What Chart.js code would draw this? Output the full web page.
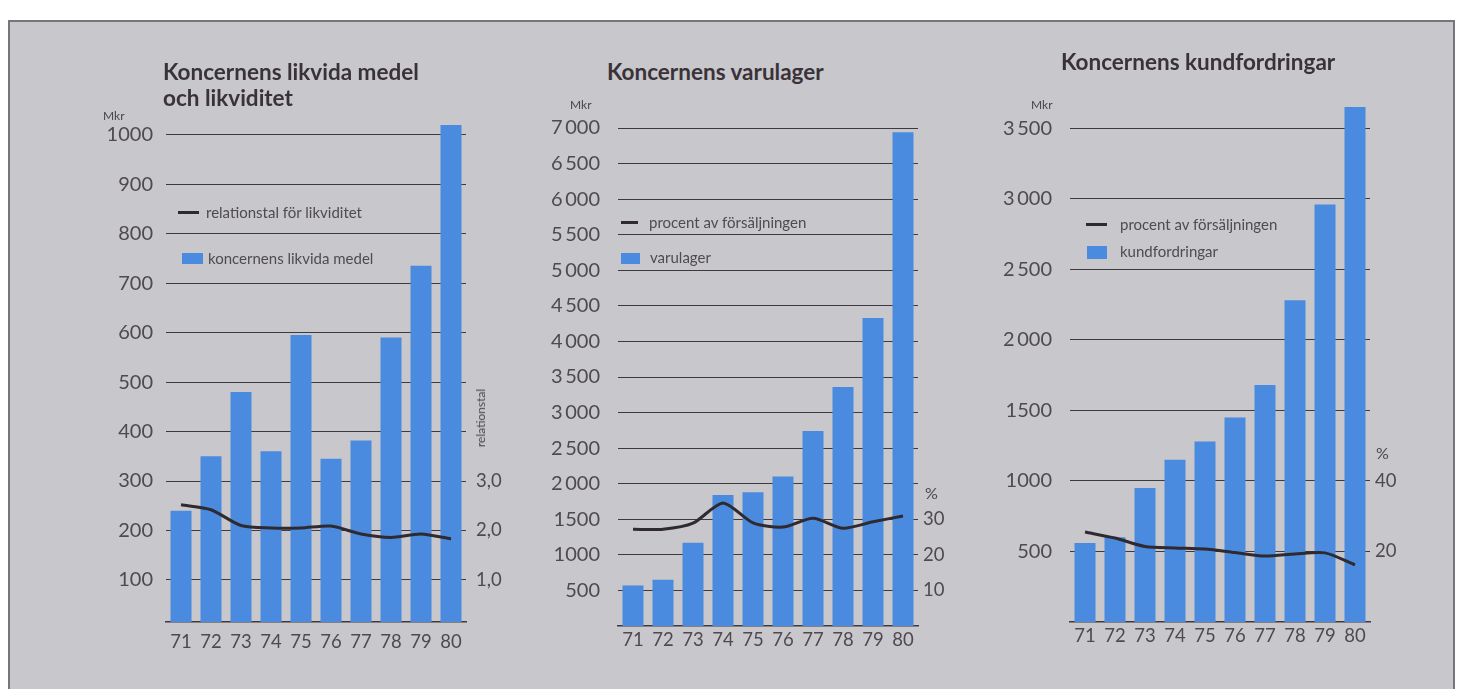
<!DOCTYPE html>
<html>
<head>
<meta charset="utf-8">
<script src="https://cdn.jsdelivr.net/npm/chart.js@4.4.1/dist/chart.umd.min.js"></script>
<style>
  html, body { margin:0; padding:0; background:#ffffff; width:1464px; height:689px; overflow:hidden; }
  #frame { position:absolute; left:8px; top:20px; width:1447px; height:680px; background:#c8c7cb; border:2px solid #77757a; box-sizing:border-box; }
  canvas { position:absolute; }
  .t { position:absolute; font-family:Lato, "Open Sans", sans-serif; color:#4a464c; white-space:nowrap; }
  .title { font-weight:700; font-size:22.5px; color:#3a3239; line-height:26px; letter-spacing:0px; }
  .mkr { font-size:12px; line-height:12px; }
  .leg { font-size:15px; line-height:16px; color:#4f4b51; }
  .sw-line { position:absolute; height:3px; background:#2e2a30; }
  .sw-box { position:absolute; background:#4a8be0; }
  .pct { font-size:16px; line-height:16px; }
  .rot { font-size:12px; line-height:12px; transform:translate(-50%,-50%) rotate(-90deg); }
</style>
</head>
<body>
<div id="frame"></div>

<canvas id="c1" width="413" height="564" style="left:93px; top:95px;"></canvas>
<canvas id="c2" width="418" height="548" style="left:545px; top:108px;"></canvas>
<canvas id="c3" width="418" height="572" style="left:997px; top:80px;"></canvas>

<div class="t title" style="left:163px; top:59px;">Koncernens likvida medel<br>och likviditet</div>
<div class="t title" style="left:607px; top:59px;">Koncernens varulager</div>
<div class="t title" style="left:1061px; top:49px;">Koncernens kundfordringar</div>

<div class="t mkr" style="left:103px; top:110px;">Mkr</div>
<div class="t mkr" style="left:570px; top:99px;">Mkr</div>
<div class="t mkr" style="left:1031px; top:99px;">Mkr</div>

<div class="sw-line" style="left:178px; top:211px; width:21px;"></div>
<div class="t leg" style="left:206px; top:204px;">relationstal för likviditet</div>
<div class="sw-box" style="left:182px; top:253px; width:21px; height:11px;"></div>
<div class="t leg" style="left:208px; top:250px;">koncernens likvida medel</div>

<div class="sw-line" style="left:621px; top:221px; width:17px;"></div>
<div class="t leg" style="left:649px; top:214px;">procent av försäljningen</div>
<div class="sw-box" style="left:621px; top:253px; width:19px; height:11px;"></div>
<div class="t leg" style="left:650px; top:249px;">varulager</div>

<div class="sw-line" style="left:1086px; top:223px; width:21px;"></div>
<div class="t leg" style="left:1120px; top:216px;">procent av försäljningen</div>
<div class="sw-box" style="left:1087px; top:246px; width:20px; height:13px;"></div>
<div class="t leg" style="left:1120px; top:243px;">kundfordringar</div>

<div class="t rot" style="left:481px; top:418px;">relationstal</div>
<div class="t pct" style="left:925px; top:485px;">%</div>
<div class="t pct" style="left:1376px; top:445px;">%</div>

<script>
const years = ['71','72','73','74','75','76','77','78','79','80'];

// Koncernens likvida medel (Mkr) and relationstal för likviditet
const likvidaMedel = [240, 350, 480, 360, 595, 345, 382, 590, 735, 1020];
const relationstal = [2.52, 2.42, 2.10, 2.05, 2.05, 2.09, 1.93, 1.86, 1.93, 1.83];

// Koncernens varulager (Mkr) and procent av försäljningen
const varulager = [570, 650, 1170, 1840, 1880, 2100, 2740, 3360, 4330, 6940];
const varuProcent = [27.2, 27.2, 28.9, 34.6, 29.0, 27.8, 30.3, 27.5, 29.3, 30.9];

// Koncernens kundfordringar (Mkr) and procent av försäljningen
const kundfordringar = [560, 600, 950, 1150, 1280, 1450, 1680, 2280, 2960, 3650];
const kundProcent = [25.5, 23.8, 21.4, 21.0, 20.7, 19.7, 18.7, 19.3, 19.6, 16.2];

// tick labels
const ticks1Left = [100,200,300,400,500,600,700,800,900,1000];
const ticks1Right = [1,2,3];
const ticks2Left = [500,1000,1500,2000,2500,3000,3500,4000,4500,5000,5500,6000,6500,7000];
const ticks2Right = [10,20,30];
const ticks3Left = [500,1000,1500,2000,2500,3000,3500];
const ticks3Right = [20,40];

const BLUE = '#4a8be0';
const LINE = '#2e2a30';
const GRID = '#3c3940';
const TICKC = '#4e4a50';
const FONT = 'Lato, "Open Sans", sans-serif';

function fmtThousand(v) {
  if (v >= 2000) {
    const s = String(v);
    return s.slice(0, s.length-3) + '\u2009' + s.slice(-3);
  }
  return String(v);
}

function config(bars, line, cfg) {
  return {
    data: {
      labels: years,
      datasets: [
        { type:'line', data: line, yAxisID:'y1', borderColor: LINE, borderWidth: 3,
          pointRadius: 0, tension: 0.25, order: 0 },
        { type:'bar', data: bars, yAxisID:'y', backgroundColor: BLUE,
          barPercentage: 0.7, categoryPercentage: 1.0, order: 1 }
      ]
    },
    options: {
      responsive: false,
      maintainAspectRatio: false,
      animation: false,
      devicePixelRatio: 1,
      layout: { padding: { top: 20, left: 0, right: 0, bottom: 0 } },
      plugins: { legend: { display:false }, tooltip: { enabled:false } },
      scales: {
        x: {
          grid: { display:false, drawTicks:false },
          border: { display:true, color: GRID, width: 1.5 },
          ticks: { color: TICKC, font: { family: FONT, size: 18.5 }, padding: cfg.xPad, maxRotation:0 },
          afterFit: s => { s.height = 30; }
        },
        y: {
          position: 'left', z: 1,
          min: cfg.min, max: cfg.max,
          afterBuildTicks: s => { s.ticks = cfg.leftTicks.map(v => ({ value: v })); },
          grid: { color: GRID, lineWidth: 1, drawTicks:false },
          border: { display:false },
          ticks: { color: TICKC, font: { family: FONT, size: 20 }, padding: cfg.yPad,
                   callback: v => cfg.fmtLeft(v) },
          afterFit: s => { s.width = cfg.yWidth; }
        },
        y1: {
          position: 'right',
          min: cfg.min1, max: cfg.max1,
          afterBuildTicks: s => { s.ticks = cfg.rightTicks.map(v => ({ value: v })); },
          grid: { display:false, drawTicks:false },
          border: { display:false },
          ticks: { color: TICKC, font: { family: FONT, size: 18.5 }, padding: cfg.y1Pad,
                   callback: v => cfg.fmtRight(v) },
          afterFit: s => { s.width = cfg.y1Width; }
        }
      }
    }
  };
}

// build the chart, then move/resize its canvas so the plot area sits at the wanted page rows
function build(id, bars, line, cfg, wantTop, wantBottom) {
  const canvas = document.getElementById(id);
  let chart = new Chart(canvas, config(bars, line, cfg));
  for (let i = 0; i < 3; i++) {
    const ca = chart.chartArea;
    const top = parseFloat(canvas.style.top);
    const curTop = top + ca.top;
    const curH = ca.bottom - ca.top;
    const newTop = Math.round(top + (wantTop - curTop));
    const newH = Math.round(canvas.height + ((wantBottom - wantTop) - curH));
    if (Math.abs(newTop - top) < 0.5 && newH === canvas.height) break;
    const w = canvas.width;
    chart.destroy();
    canvas.width = w; canvas.height = newH;
    canvas.style.top = newTop + 'px';
    canvas.style.width = w + 'px'; canvas.style.height = newH + 'px';
    chart = new Chart(canvas, config(bars, line, cfg));
  }
  return chart;
}

build('c1', likvidaMedel, relationstal, {
  min: 15, max: 1040, min1: 0.15, max1: 10.4,
  leftTicks: ticks1Left, rightTicks: ticks1Right,
  fmtLeft: v => String(v), fmtRight: v => v.toFixed(1).replace('.', ','),
  yWidth: 73, y1Width: 40, yPad: 13, y1Pad: 10, xPad: 9
}, 115, 622);

build('c2', varulager, varuProcent, {
  min: 0, max: 7000, min1: 0, max1: 140,
  leftTicks: ticks2Left, rightTicks: ticks2Right,
  fmtLeft: fmtThousand, fmtRight: v => String(v),
  yWidth: 73, y1Width: 45, yPad: 18, y1Pad: 5, xPad: 3
}, 128, 626);

build('c3', kundfordringar, kundProcent, {
  min: 0, max: 3700, min1: 0, max1: 148,
  leftTicks: ticks3Left, rightTicks: ticks3Right,
  fmtLeft: fmtThousand, fmtRight: v => String(v),
  yWidth: 73, y1Width: 45, yPad: 18, y1Pad: 5, xPad: 3
}, 100, 622);
</script>
</body>
</html>
